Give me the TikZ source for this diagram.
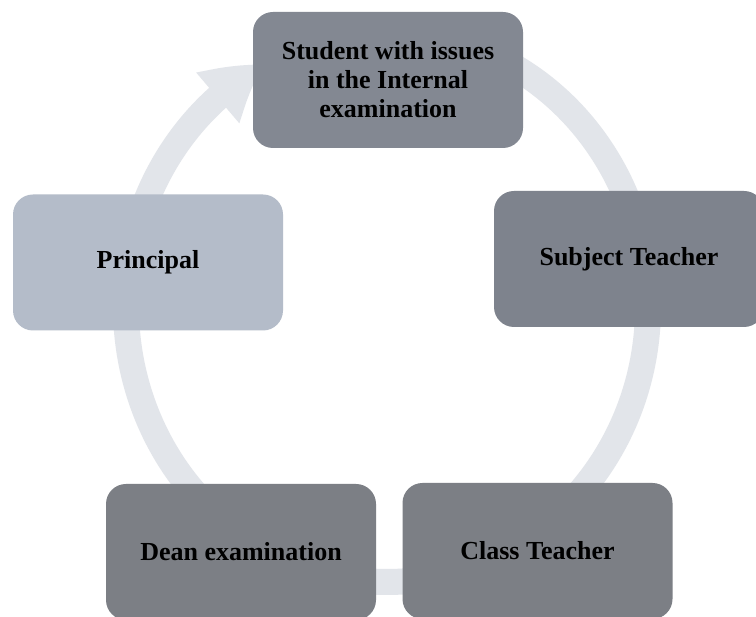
\documentclass[tikz,border=0pt]{standalone}
\usepackage{fontspec}
\setmainfont{Liberation Serif}
\usetikzlibrary{arrows.meta,bending,backgrounds}
\definecolor{boxS}{RGB}{131,136,146}
\definecolor{boxSub}{RGB}{126,131,141}
\definecolor{boxP}{RGB}{180,188,201}
\definecolor{boxD}{RGB}{124,127,133}
\definecolor{arcgray}{RGB}{226,229,234}
\begin{document}
\begin{tikzpicture}[x=1pt,y=1pt,
  box/.style={rectangle, rounded corners=20pt, minimum width=270pt, minimum height=136pt,
    align=center, text=black, inner sep=0pt,
    font=\fontsize{26}{29}\selectfont\bfseries},
  cyc/.style={line width=26pt, draw=arcgray,
    -{Triangle[length=58pt,width=62pt,bend,color=arcgray]}}]
\useasboundingbox (0,0) rectangle (756,617);
\coordinate (O) at (387,310);
\node[box, fill=boxS]   (s)  at (388,537)   {Student with issues\\in the Internal\\examination};
\node[box, fill=boxSub] (st) at (629,358)   {Subject Teacher};
\node[box, fill=boxD]   (ct) at (537.5,66)  {Class Teacher};
\node[box, fill=boxD]   (de) at (241,65)    {Dean examination};
\node[box, fill=boxP]   (pr) at (148,354.5) {Principal};
\begin{scope}[on background layer]
  \fill[white] (0,0) rectangle (756,617);
  % Student -> Subject Teacher
  \draw[cyc] ([shift={(70:261pt and 275pt)}]O) arc[start angle=70, end angle=5, x radius=261pt, y radius=275pt];
  % Subject Teacher -> Class Teacher
  \draw[cyc] ([shift={(0:261pt and 275pt)}]O) arc[start angle=0, end angle=-70, x radius=261pt, y radius=275pt];
  % Class Teacher -> Dean
  \draw[cyc] ([shift={(-75:261pt and 275pt)}]O) arc[start angle=-75, end angle=-112, x radius=261pt, y radius=275pt];
  % Dean -> Principal
  \draw[cyc] ([shift={(240:261pt and 275pt)}]O) arc[start angle=240, end angle=157, x radius=261pt, y radius=275pt];
  % Principal -> Student
  \draw[cyc] ([shift={(165:261pt and 275pt)}]O) arc[start angle=165, end angle=118, x radius=261pt, y radius=275pt];
\end{scope}
\end{tikzpicture}
\end{document}
